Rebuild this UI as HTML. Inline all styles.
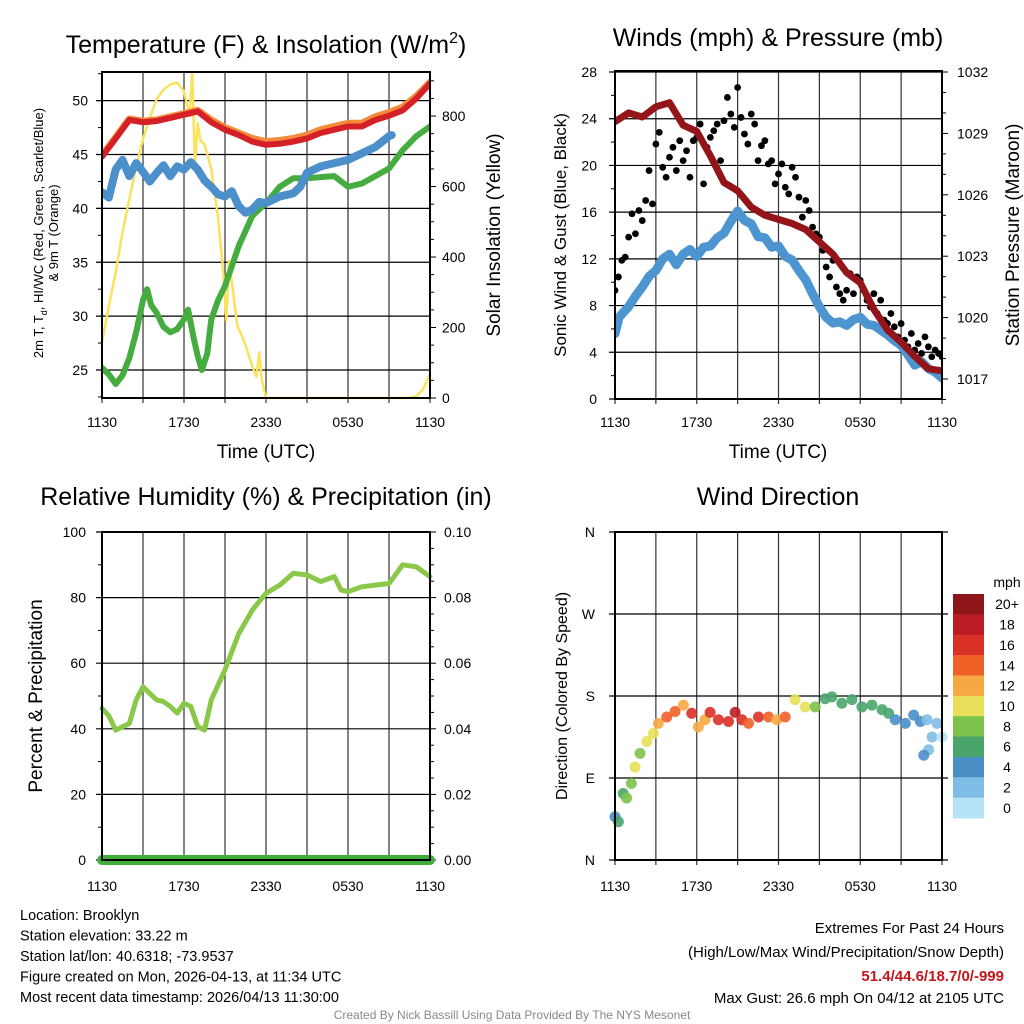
<!DOCTYPE html>
<html><head><meta charset="utf-8"><style>
body{margin:0;background:#fff;width:1024px;height:1024px;overflow:hidden;font-family:"Liberation Sans",sans-serif}
svg{position:absolute;left:0;top:0}
</style></head><body>
<svg id="c" width="1024" height="1024" xmlns="http://www.w3.org/2000/svg" font-family="Liberation Sans, sans-serif"></svg>
<script>
const hours=[0,1,2,3,4,5,6,7,8,9,10,11,12,13,14,15,16,17,18,19,20,21,22,23,24];
const tempT=[44.8,46.5,48.2,48.0,48.1,48.4,48.7,49.0,48.0,47.3,46.8,46.2,45.9,46.0,46.2,46.5,47.0,47.3,47.6,47.6,48.2,48.6,49.1,50.2,51.6];
const temp9m=[44.9,46.6,48.3,48.1,48.2,48.5,48.8,49.1,48.2,47.5,47.0,46.5,46.2,46.3,46.5,46.8,47.3,47.6,47.9,47.9,48.5,48.9,49.4,50.4,51.7];
const hiwcHours=[0,0.5,1,1.5,2,2.5,3,3.5,4,4.5,5,5.5,6,6.5,7,7.5,8,8.5,9,9.5,10,10.5,11,11.5,12,13,14,14.5,15,16,17,18,19,20,21,21.2];
const hiwc=[41.5,41.0,43.6,44.5,43.0,44.2,43.4,42.5,43.3,44.0,43.0,43.9,43.6,44.3,43.6,42.6,42.0,41.3,41.1,41.6,40.2,39.6,39.9,40.6,40.5,41.1,41.4,42.0,43.3,43.9,44.2,44.5,45.1,45.7,46.7,46.8];
const tdHours=[0,0.5,1,1.5,2,2.5,3,3.3,3.6,4,4.5,5,5.5,6,6.3,6.7,7,7.3,7.7,8,8.5,9,10,11,12,13,14,15,16,17,18,19,20,21,22,23,24];
const td=[25.2,24.6,23.7,24.5,26.1,28.5,31.5,32.5,31.0,30.3,29.0,28.5,28.8,29.7,30.6,28.0,26.3,25.0,26.5,29.7,31.5,32.8,36.5,39.3,40.5,42.0,42.8,42.8,42.9,43.0,42.0,42.3,43.0,43.7,45.4,46.7,47.6];
const solarHours=[0,0.5,1,1.5,2,2.5,3,3.5,4,4.5,5,5.5,6,6.4,6.6,6.8,7.0,7.2,7.5,8,8.5,8.9,9.1,9.3,9.6,9.9,10.2,10.5,11.0,11.3,11.5,11.7,12,13,22,22.5,23,23.5,24];
const solar=[159,260,357,470,565,655,735,795,848,875,890,895,870,800,925,660,780,730,720,650,508,346,220,390,300,205,180,150,90,60,130,50,0,0,0,0,5,25,68];
const windHours=[0,0.3,0.6,1,1.5,2,2.5,3,3.5,4,4.5,5,5.5,6,6.5,7,7.5,8,8.5,9,9.5,10,10.5,11,11.5,12,12.5,13,13.5,14,14.5,15,15.5,16,16.5,17,17.5,18,18.5,19,19.5,20,20.5,21,21.5,22,22.5,23,23.5,24];
const wind=[5.6,7.0,7.4,7.9,8.8,9.6,10.5,11.0,12.0,12.4,11.5,12.4,12.8,12.2,13.0,13.1,13.8,14.2,15.2,16.1,15.3,15.0,13.9,13.8,13.0,13.1,12.2,11.9,11.0,10.2,9.0,7.9,7.0,6.5,6.6,6.3,6.8,7.0,6.4,6.3,5.9,5.5,5.0,4.6,3.8,2.9,3.2,2.6,2.3,1.8];
const gust=[9.3,10.45,11.87,12.15,13.86,15.86,14.15,16.14,15.28,17.0,19.56,16.71,21.83,22.83,19.84,18.99,20.7,21.55,19.56,22.12,20.41,21.26,18.99,22.12,22.4,23.54,18.42,21.55,22.4,22.97,23.54,20.41,23.83,25.82,24.4,23.26,26.67,24.11,22.69,21.83,24.4,23.54,20.41,21.69,22.12,20.13,20.41,18.42,19.27,20.13,18.13,17.56,19.84,18.99,17.28,15.57,17.0,16.14,14.72,14.15,13.86,12.73,11.3,10.45,11.87,9.59,9.02,8.46,9.31,10.73,9.02,10.45,10.16,9.31,8.46,7.89,9.02,7.32,8.46,6.75,6.46,7.32,6.18,5.32,6.46,5.04,4.47,5.61,4.19,4.75,3.9,5.32,4.47,3.62,4.19,3.9,3.62];
const pressure=[1029.57,1030.0,1029.8,1030.3,1030.5,1029.4,1029.1,1027.9,1026.6,1026.2,1025.4,1025.0,1024.8,1024.6,1024.3,1023.7,1023.1,1022.2,1021.7,1020.4,1019.4,1018.8,1018.1,1017.5,1017.4];
const rhHours=[0,0.5,1,1.5,2,2.5,3,3.5,4,4.5,5,5.5,6,6.5,7,7.5,8,9,10,11,12,13,14,15,16,17,17.5,18,19,20,21,22,23,24];
const rh=[46.2,44,39.6,40.6,41.6,48.8,52.8,50.8,48.8,48.3,46.8,44.8,47.8,46.8,40.7,39.6,48.8,58,69,76.2,81.3,83.8,87.4,86.9,84.9,86.4,82.3,81.8,83.3,83.8,84.3,90,89.4,86.4];
const dirHours=[0,0.25,0.6,0.85,1.2,1.47,1.84,2.33,2.82,3.18,3.8,4.41,5.02,5.63,6.12,6.61,6.98,7.59,8.33,8.82,9.31,9.8,10.53,11.27,11.88,12.49,13.22,13.96,14.69,15.43,15.92,16.65,17.39,18.12,18.86,19.6,20.08,20.57,21.31,21.92,22.41,22.9,23.27,23.63,23.02,22.66,24];
const dirDeg=[47.5,42,73,68,84,102,117,130,139,150,157,163,170,161,146,154,162,154,152,162,154,150,157,157,154,157,176,168,168,177,179,172,176,168,170,165,161,154,150,159,152,154,135,150,121,115,135];
const dirSpeed=[4,6,6,8,8,10,8,10,10,12,14,14,12,16,12,13,17,16,16,18,17,14,16,14,12,14,10,10,8,6,6,6,6,7,6,6,6,4,4,4,4,2,2,2,2,4,1];
const cbLabels=['20+','18','16','14','12','10','8','6','4','2','0'];
const cbColors=['#8e1518','#bb1c24','#d93127','#f06128','#f7a843','#e8e05a','#7dc24a','#4aa56d','#4a8ec6','#7fbde6','#b7e3f6'];
const xTickLabels=['1130','1730','2330','0530','1130'];

const NS='http://www.w3.org/2000/svg';
const svg=document.getElementById('c');
function el(tag,attrs,parent,txt){const e=document.createElementNS(NS,tag);for(const k in attrs)e.setAttribute(k,attrs[k]);if(txt!==undefined)e.textContent=txt;(parent||svg).appendChild(e);return e;}
function mkScale(d0,d1,r0,r1){return v=>r0+(v-d0)/(d1-d0)*(r1-r0);}

function panel(name,x0,x1,y0,y1){
  const g=el('g',{});
  
  
  const xs=mkScale(0,24,x0,x1);
  for(let h=0;h<=24;h+=3){const x=xs(h);el('line',{x1:x,x2:x,y1:y0,y2:y1+5,stroke:'#333','stroke-width':1.2},g);}
  return {g,xs};
}
function xLabels(g,xs,y){xTickLabels.forEach((l,i)=>{const t=el('text',{x:xs(i*6),y:y,'font-size':14,'text-anchor':'middle'},g,l);});}
function poly(g,xsArr,ysArr,xs,ys,attrs,name){let d='';xsArr.forEach((h,i)=>{d+=(i?'L':'M')+xs(h).toFixed(1)+','+ys(ysArr[i]).toFixed(1);});const p=el('path',Object.assign({d:d,fill:'none','stroke-linejoin':'round','stroke-linecap':'round'},attrs),g);return p;}
function clip(id,x0,y0,x1,y1){const c=el('clipPath',{id:id});el('rect',{x:x0,y:y0,width:x1-x0,height:y1-y0},c);}

// ---- Panel 1
(function(){
const x0=102,x1=430,y0=72,y1=398;
const {g,xs}=panel('temperature-panel',x0,x1,y0,y1);
const yl=mkScale(22.4,52.66,y1,y0), yr=mkScale(0,925,y1,y0);
[25,30,35,40,45,50].forEach(v=>{const y=yl(v);el('line',{x1:x0-6,x2:x1,y1:y,y2:y,stroke:'#000','stroke-width':1.2},g);const t=el('text',{x:x0-14,y:y+5,'font-size':14,'text-anchor':'end'},g,v);});
for(let v=22.5;v<52.6;v+=2.5)el('line',{x1:x0-4,x2:x0,y1:yl(v),y2:yl(v),stroke:'#000'},g);
for(let v=0;v<=900;v+=50){const y=yr(v);el('line',{x1:x1,x2:x1+(v%200==0?6:4),y1:y,y2:y,stroke:'#000'},g);if(v%200==0){const t=el('text',{x:x1+12,y:y+5,'font-size':14},g,v);}}
clip('cp1',x0,y0-2,x1,y1+2);
const d=el('g',{'clip-path':'url(#cp1)'},g);
poly(d,solarHours,solar,xs,yr,{stroke:'#fbe25a','stroke-width':2.5},'solar-line');
poly(d,tdHours,td,xs,yl,{stroke:'#45ad3f','stroke-width':6},'dewpoint-line');
poly(d,hiwcHours,hiwc,xs,yl,{stroke:'#4b8fcb','stroke-width':8},'heat-index-line');
poly(d,hours,temp9m,xs,yl,{stroke:'#f58a3a','stroke-width':7},'temp-9m-line');
poly(d,hours,tempT,xs,yl,{stroke:'#d42027','stroke-width':6},'temp-2m-line');
el('rect',{x:x0,y:y0,width:x1-x0,height:y1-y0,fill:'none',stroke:'#000','stroke-width':2},g);
xLabels(g,xs,427);
})();

// ---- Panel 2
(function(){
const x0=615,x1=942,y0=71,y1=399;
const {g,xs}=panel('winds-panel',x0,x1,y0,y1);
const yl=mkScale(0,28,y1,y0+1), yr=mkScale(1017,1032,379,72);
for(let v=0;v<=28;v+=4){const y=yl(v);el('line',{x1:x0-6,x2:x1,y1:y,y2:y,stroke:'#000','stroke-width':1.2},g);const t=el('text',{x:x0-18,y:y+5,'font-size':14,'text-anchor':'end'},g,v);}
for(let v=2;v<28;v+=4)el('line',{x1:x0-4,x2:x0,y1:yl(v),y2:yl(v),stroke:'#000'},g);
for(let v=1016;v<=1032;v++){const y=yr(v);const maj=(v-1017)%3===0;el('line',{x1:x1,x2:x1+(maj?6:4),y1:y,y2:y,stroke:'#000'},g);if(maj){const t=el('text',{x:x1+15,y:y+5,'font-size':14},g,v);}}
clip('cp2',x0,y0-2,x1,y1+2);
const d=el('g',{'clip-path':'url(#cp2)'},g);
poly(d,windHours,wind,xs,yl,{stroke:'#4d95d0','stroke-width':9},'sonic-wind-line');
gust.forEach((v,i)=>{const c=el('circle',{cx:xs(i*0.25),cy:yl(v),r:3.4,fill:'#000'},d);});
poly(d,hours,pressure,xs,yr,{stroke:'#931519','stroke-width':7},'pressure-line');
el('rect',{x:x0,y:y0,width:x1-x0,height:y1-y0,fill:'none',stroke:'#000','stroke-width':2},g);
xLabels(g,xs,427);
})();

// ---- Panel 3
(function(){
const x0=102,x1=430,y0=532,y1=860;
const {g,xs}=panel('humidity-panel',x0,x1,y0,y1);
const yl=mkScale(0,100,y1,y0), yr=mkScale(0,0.1,y1,y0);
for(let v=0;v<=100;v+=20){const y=yl(v);el('line',{x1:x0-6,x2:x1,y1:y,y2:y,stroke:'#000','stroke-width':1.2},g);const t=el('text',{x:x0-16,y:y+5,'font-size':14,'text-anchor':'end'},g,v);}
for(let v=10;v<100;v+=20)el('line',{x1:x0-4,x2:x0,y1:yl(v),y2:yl(v),stroke:'#000'},g);
for(let i=0;i<=20;i++){const v=i*0.005,y=yr(v);el('line',{x1:x1,x2:x1+(i%4==0?6:4),y1:y,y2:y,stroke:'#000'},g);if(i%4==0){const t=el('text',{x:x1+14,y:y+5,'font-size':14},g,v.toFixed(2));}}
poly(g,rhHours,rh,xs,yl,{stroke:'#8bc84a','stroke-width':5},'rh-line');
poly(g,[0,24],[0,0],xs,yr,{stroke:'#3fae3f','stroke-width':10},'precip-line');
el('rect',{x:x0,y:y0,width:x1-x0,height:y1-y0,fill:'none',stroke:'#000','stroke-width':2},g);
xLabels(g,xs,891);
})();

// ---- Panel 4
(function(){
const x0=615,x1=942,y0=532,y1=860;
const {g,xs}=panel('wind-direction-panel',x0,x1,y0,y1);
const yl=mkScale(0,360,y1,y0);
['N','E','S','W','N'].forEach((l,i)=>{const y=yl(i*90);el('line',{x1:x0-6,x2:x1+6,y1:y,y2:y,stroke:'#000','stroke-width':1.2},g);const t=el('text',{x:x0-20,y:y+5,'font-size':14,'text-anchor':'end'},g,l);});
function col(s){let i=Math.min(10,Math.floor(s/2));return cbColors[10-i];}
dirDeg.forEach((v,i)=>{const c=el('circle',{cx:xs(dirHours[i]),cy:yl(v),r:5.5,fill:col(dirSpeed[i]),'fill-opacity':0.9},g);});
el('rect',{x:x0,y:y0,width:x1-x0,height:y1-y0,fill:'none',stroke:'#000','stroke-width':2},g);
xLabels(g,xs,891);
const cb=el('g',{});
const bh=(818-594)/11;
cbColors.forEach((c,i)=>{el('rect',{x:953,y:594+i*bh,width:31,height:bh+0.5,fill:c},cb);el('text',{x:1007,y:594+i*bh+bh/2+5,'font-size':14,'text-anchor':'middle'},cb,cbLabels[i]);});
el('text',{x:1007,y:587,'font-size':14,'text-anchor':'middle'},cb,'mph');
})();

// ---- Titles and axis titles
function T(x,y,s,txt,name,extra){const t=el('text',Object.assign({x:x,y:y,'font-size':s,'text-anchor':'middle'},extra||{}),svg,txt);return t;}
const t1=T(266,53,25,'','temperature-title');t1.innerHTML='Temperature (F) &amp; Insolation (W/m<tspan dy="-10" font-size="16">2</tspan><tspan dy="10">)</tspan>';
T(778,46,25,'Winds (mph) & Pressure (mb)','winds-title');
T(266,505,25,'Relative Humidity (%) & Precipitation (in)','humidity-title');
T(778,505,25,'Wind Direction','wind-direction-title');
T(266,458,19,'Time (UTC)','x-axis-title');
T(778,458,19,'Time (UTC)','x-axis-title');
const la=T(0,0,13,'','temp-y-axis-title',{transform:'translate(43,233) rotate(-90)'});la.innerHTML='2m T, T<tspan dy="4" font-size="9">d</tspan><tspan dy="-4">, HI/WC (Red, Green, Scarlet/Blue)</tspan>';
T(0,0,13,'& 9m T (Orange)','temp-y-axis-title-2',{transform:'translate(58,233) rotate(-90)'});
T(0,0,19,'Solar Insolation (Yellow)','solar-axis-title',{transform:'translate(500,235) rotate(-90)'});
T(0,0,17,'Sonic Wind & Gust (Blue, Black)','wind-axis-title',{transform:'translate(566,235) rotate(-90)'});
T(0,0,19,'Station Pressure (Maroon)','pressure-axis-title',{transform:'translate(1019,235) rotate(-90)'});
T(0,0,19,'Percent & Precipitation','rh-axis-title',{transform:'translate(42,696) rotate(-90)'});
T(0,0,16,'Direction (Colored By Speed)','direction-axis-title',{transform:'translate(567,696) rotate(-90)'});

// ---- Footer
['Location: Brooklyn','Station elevation: 33.22 m','Station lat/lon: 40.6318; -73.9537','Figure created on Mon, 2026-04-13, at 11:34 UTC','Most recent data timestamp: 2026/04/13 11:30:00'].forEach((s,i)=>{const t=el('text',{x:20,y:920+i*20.5,'font-size':14.5},svg,s);});
[['Extremes For Past 24 Hours',933,'#000','normal'],['(High/Low/Max Wind/Precipitation/Snow Depth)',957,'#000','normal'],['51.4/44.6/18.7/0/-999',981,'#c4161c','bold'],['Max Gust: 26.6 mph On 04/12 at 2105 UTC',1003,'#000','normal']].forEach(a=>{const t=el('text',{x:1004,y:a[1],'font-size':15,'text-anchor':'end',fill:a[2],'font-weight':a[3]},svg,a[0]);});
T(512,1019,12,'Created By Nick Bassill Using Data Provided By The NYS Mesonet','credit-text',{fill:'#888'});
</script>
</body></html>
